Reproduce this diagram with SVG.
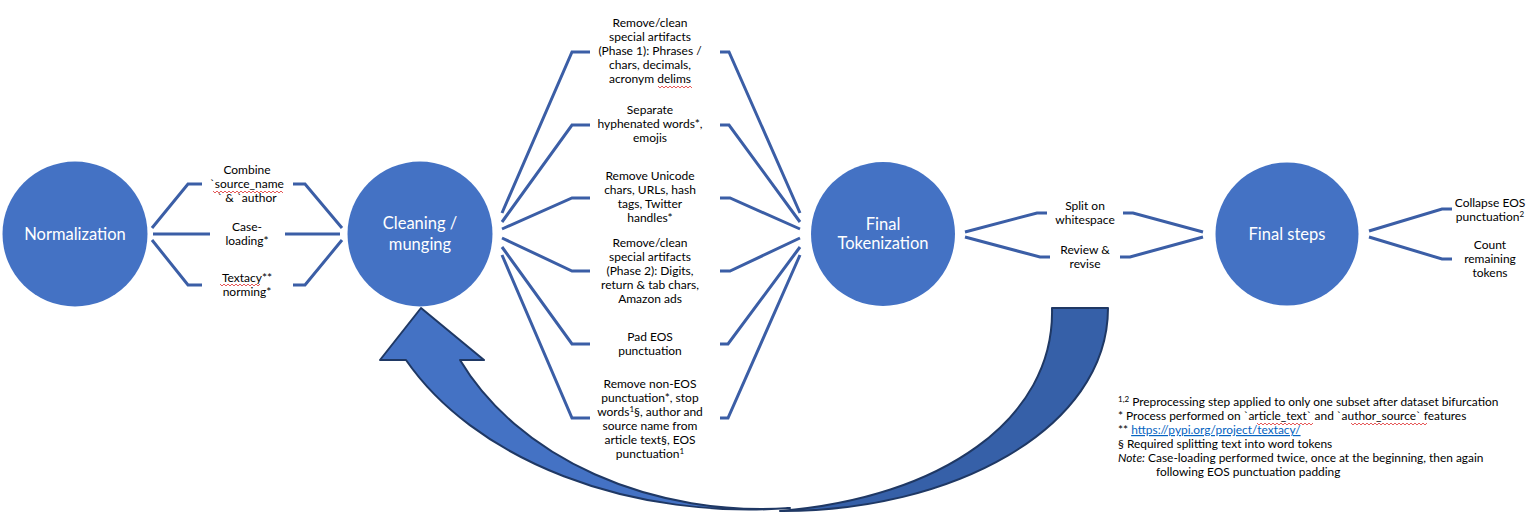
<svg xmlns="http://www.w3.org/2000/svg" width="1534" height="519" viewBox="0 0 1534 519">
<style>
.node{fill:#4472C4}
.nt{font-family:Lato,"Liberation Sans",sans-serif;font-size:16.5px;fill:#fff;text-anchor:middle}
.lb{font-family:Lato,"Liberation Sans",sans-serif;font-size:12px;fill:#000;text-anchor:middle}
.note{font-family:Lato,"Liberation Sans",sans-serif;font-size:11.9px;fill:#000}
.c{fill:none;stroke:#3B5EA6;stroke-width:3;stroke-linejoin:miter}
.sq{fill:none;stroke:#E03030;stroke-width:0.8}
.sup{font-size:8px}
</style>
<rect width="1534" height="519" fill="#fff"/>
<g id="connectors">
<polyline class="c" points="152,228 188,184 202,184"/>
<polyline class="c" points="293,184 305,184 342,228"/>
<polyline class="c" points="153,234 210,234"/>
<polyline class="c" points="285,234 340,234"/>
<polyline class="c" points="152,240 188,285 202,285"/>
<polyline class="c" points="293,285 305,285 342,240"/>
<polyline class="c" points="502,213 572,52 590,52"/>
<polyline class="c" points="502,222 572,125 590,125"/>
<polyline class="c" points="502,229 572,198 590,198"/>
<polyline class="c" points="502,238 572,271 590,271"/>
<polyline class="c" points="502,247 572,344 590,344"/>
<polyline class="c" points="502,255 572,418 590,418"/>
<polyline class="c" points="720,52 729,52 800,213"/>
<polyline class="c" points="720,125 729,125 800,222"/>
<polyline class="c" points="720,198 730,198 800,229"/>
<polyline class="c" points="720,271 730,271 800,238"/>
<polyline class="c" points="720,344 728,344 800,247"/>
<polyline class="c" points="720,418 728,418 800,255"/>
<polyline class="c" points="965,232 1037,213 1047,213"/>
<polyline class="c" points="1123,213 1133,213 1203,232"/>
<polyline class="c" points="965,237 1040,257 1050,257"/>
<polyline class="c" points="1120,257 1130,257 1203,237"/>
<polyline class="c" points="1369,231 1442,209 1452,209"/>
<polyline class="c" points="1369,237 1442,259 1452,259"/>
</g>
<g id="loop-arrow" stroke="#1F3864" stroke-width="2" stroke-linejoin="round">
<path fill="#3660A8" d="M1052,308 L1108,308 C1108,430 950,512 780,511 C940,498 1055,420 1052,308 Z"/>
<path fill="#4472C4" d="M421,308 L484,360 L460,360 A332 256 0 0 0 790,508 A380 262 0 0 1 406,360 L380,360 Z"/>
</g>
<g id="normalization"><circle class="node" cx="75" cy="234" r="72.5"/><text class="nt" x="75" y="240">Normalization</text></g>
<g id="cleaning"><circle class="node" cx="420" cy="234" r="72.5"/><text class="nt" x="420" y="229">Cleaning /</text><text class="nt" x="420" y="250">munging</text></g>
<g id="final-tokenization"><circle class="node" cx="883" cy="234" r="72"/><text class="nt" x="883" y="230">Final</text><text class="nt" x="883" y="249">Tokenization</text></g>
<g id="final-steps"><circle class="node" cx="1287" cy="234" r="71.5"/><text class="nt" x="1287" y="240">Final steps</text></g>
<g id="label-combine"><text class="lb" x="247" y="174">Combine</text><text class="lb" x="247" y="188">`source_name</text><text class="lb" x="247" y="202">` &amp; `author</text><polyline class="sq" points="213,191 215,193 217,191 219,193 221,191 223,193 225,191 227,193 229,191 231,193 233,191 235,193 237,191 239,193 241,191 243,193 245,191 247,193 249,191 251,193 253,191 255,193 257,191 259,193 261,191 263,193 265,191 267,193 269,191 271,193 273,191 275,193 277,191 279,193 281,191 283,193"/></g>
<g id="label-case"><text class="lb" x="247" y="231">Case-</text><text class="lb" x="247" y="245">loading*</text></g>
<g id="label-textacy"><text class="lb" x="247" y="282">Textacy**</text><text class="lb" x="247" y="296">norming*</text><polyline class="sq" points="220,284 222,286 224,284 226,286 228,284 230,286 232,284 234,286 236,284 238,286 240,284 242,286 244,284 246,286 248,284 250,286 252,284 254,286 256,284 258,286 260,284"/></g>
<g id="label-phase1"><text class="lb" x="650" y="27">Remove/clean</text><text class="lb" x="650" y="41">special artifacts</text><text class="lb" x="650" y="55">(Phase 1): Phrases /</text><text class="lb" x="650" y="69">chars, decimals,</text><text class="lb" x="650" y="83">acronym delims</text><polyline class="sq" points="658,86 660,88 662,86 664,88 666,86 668,88 670,86 672,88 674,86 676,88 678,86 680,88 682,86 684,88 686,86 688,88 690,86 692,88"/></g>
<g id="label-hyphen"><text class="lb" x="650" y="114">Separate</text><text class="lb" x="650" y="128">hyphenated words*,</text><text class="lb" x="650" y="142">emojis</text></g>
<g id="label-unicode"><text class="lb" x="650" y="180">Remove Unicode</text><text class="lb" x="650" y="194">chars, URLs, hash</text><text class="lb" x="650" y="208">tags, Twitter</text><text class="lb" x="650" y="222">handles*</text></g>
<g id="label-phase2"><text class="lb" x="650" y="247">Remove/clean</text><text class="lb" x="650" y="261">special artifacts</text><text class="lb" x="650" y="275">(Phase 2): Digits,</text><text class="lb" x="650" y="289">return &amp; tab chars,</text><text class="lb" x="650" y="303">Amazon ads</text></g>
<g id="label-pad"><text class="lb" x="650" y="341">Pad EOS</text><text class="lb" x="650" y="355">punctuation</text></g>
<g id="label-noneos"><text class="lb" x="650" y="388">Remove non-EOS</text><text class="lb" x="650" y="402">punctuation*, stop</text><text class="lb" x="650" y="416">words<tspan class="sup" dy="-4">1</tspan><tspan dy="4">§, author and</tspan></text><text class="lb" x="650" y="430">source name from</text><text class="lb" x="650" y="444">article text§, EOS</text><text class="lb" x="650" y="458">punctuation<tspan class="sup" dy="-4">1</tspan></text></g>
<g id="label-split"><text class="lb" x="1085" y="210">Split on</text><text class="lb" x="1085" y="224">whitespace</text></g>
<g id="label-review"><text class="lb" x="1085" y="254">Review &amp;</text><text class="lb" x="1085" y="268">revise</text></g>
<g id="label-collapse"><text class="lb" x="1490" y="207">Collapse EOS</text><text class="lb" x="1490" y="221">punctuation<tspan class="sup" dy="-4">2</tspan></text></g>
<g id="label-count"><text class="lb" x="1490" y="249">Count</text><text class="lb" x="1490" y="263">remaining</text><text class="lb" x="1490" y="277">tokens</text></g>
<g id="notes">
<text class="note" x="1118" y="406"><tspan class="sup" dy="-4">1,2</tspan><tspan dy="4"> Preprocessing step applied to only one subset after dataset bifurcation</tspan></text>
<text class="note" x="1118" y="420">* Process performed on `article_text` and `author_source` features</text>
<text class="note" x="1118" y="434">** <tspan fill="#0563C1" text-decoration="underline">https://pypi.org/project/textacy/</tspan></text>
<text class="note" x="1118" y="448">§ Required splitting text into word tokens</text>
<text class="note" x="1118" y="462"><tspan font-style="italic">Note:</tspan> Case-loading performed twice, once at the beginning, then again</text>
<text class="note" x="1156" y="476">following EOS punctuation padding</text>
<polyline class="sq" points="1257,423 1259,425 1261,423 1263,425 1265,423 1267,425 1269,423 1271,425 1273,423 1275,425 1277,423 1279,425 1281,423 1283,425 1285,423 1287,425 1289,423 1291,425 1293,423 1295,425 1297,423 1299,425 1301,423 1303,425 1305,423 1307,425 1309,423 1311,425 1313,423"/>
<polyline class="sq" points="1351,423 1353,425 1355,423 1357,425 1359,423 1361,425 1363,423 1365,425 1367,423 1369,425 1371,423 1373,425 1375,423 1377,425 1379,423 1381,425 1383,423 1385,425 1387,423 1389,425 1391,423 1393,425 1395,423 1397,425 1399,423 1401,425 1403,423 1405,425 1407,423 1409,425 1411,423 1413,425 1415,423 1417,425 1419,423 1421,425 1423,423 1425,425 1427,423"/>
</g>
</svg>
